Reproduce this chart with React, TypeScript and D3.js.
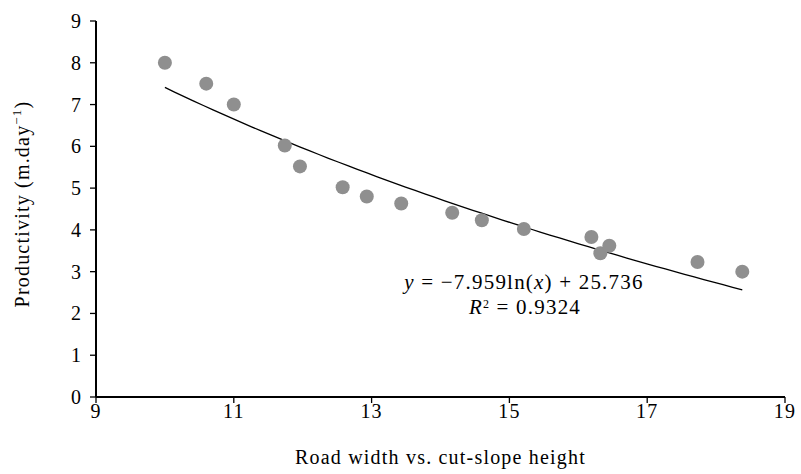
import React from "react";
import * as d3 from "d3";

// observed points (road width vs. cut-slope height, productivity)
const ratio = [10.0, 10.6, 11.0, 11.74, 11.96, 12.58, 12.93, 13.43, 14.17, 14.6, 15.21, 16.19, 16.32, 16.45, 17.73, 18.38];
const productivity = [8.0, 7.5, 7.0, 6.02, 5.52, 5.02, 4.8, 4.63, 4.41, 4.23, 4.02, 3.83, 3.44, 3.62, 3.23, 3.0];

const xTicks = [9, 11, 13, 15, 17, 19];
const yTicks = [0, 1, 2, 3, 4, 5, 6, 7, 8, 9];

// logarithmic trend: y = a ln(x) + b
const trendA = -7.959;
const trendB = 25.736;

const font = "'Liberation Serif', 'DejaVu Serif', serif";
const fs = 20;
const ls = 1.2;

const App = () => {
  const width = 801;
  const height = 474;
  const margin = { top: 21, left: 96, bottom: 77, right: 15 };

  const x = d3.scaleLinear().domain([9, 19]).range([margin.left, width - margin.right - 1]);
  const y = d3.scaleLinear().domain([0, 9]).range([height - margin.bottom, margin.top]);

  const xMin = d3.min(ratio) as number;
  const xMax = d3.max(ratio) as number;
  const trendX = d3.range(xMin, xMax + 0.001, (xMax - xMin) / 60);
  const line = d3
    .line<number>()
    .x(d => x(d))
    .y(d => y(trendA * Math.log(d) + trendB));

  const y0 = y(0);
  const x0 = x(9);

  return (
    <svg width={width} height={height} style={{ position: "absolute", left: 0, top: 0 }}>
      <rect width={width} height={height} fill="#fff" />
      {/* trend line */}
      <path d={line(trendX) || ""} fill="none" stroke="#000" strokeWidth={1.3} />
      {/* points */}
      {ratio.map((r, i) => (
        <circle key={i} cx={x(r)} cy={y(productivity[i])} r={7} fill="#8f8f8f" />
      ))}
      {/* y axis */}
      <line x1={x0} x2={x0} y1={y(9)} y2={y0} stroke="#000" strokeWidth={2} />
      {yTicks.map(t => (
        <g key={t}>
          <line x1={x0 - 6} x2={x0} y1={y(t)} y2={y(t)} stroke="#000" strokeWidth={1.3} />
          <text x={x0 - 15} y={y(t)} dy="0.35em" textAnchor="end" fontFamily={font} fontSize={fs}>
            {t}
          </text>
        </g>
      ))}
      {/* x axis */}
      <line x1={x0} x2={x(19)} y1={y0} y2={y0} stroke="#000" strokeWidth={2} />
      {xTicks.map(t => (
        <g key={t}>
          <line x1={x(t)} x2={x(t)} y1={y0} y2={y0 + 6} stroke="#000" strokeWidth={1.3} />
          <text x={x(t)} y={y0 + 21} textAnchor="middle" fontFamily={font} fontSize={fs} letterSpacing={ls}>
            {t}
          </text>
        </g>
      ))}
      {/* axis titles */}
      <text x={(x0 + x(19)) / 2} y={464} textAnchor="middle" fontFamily={font} fontSize={fs} letterSpacing={ls}>
        Road width vs. cut-slope height
      </text>
      <text
        transform={`translate(29, ${(y(9) + y0) / 2 - 5}) rotate(-90)`}
        textAnchor="middle"
        fontFamily={font}
        fontSize={fs}
        letterSpacing={ls}
      >
        Productivity (m.day<tspan dy="-8" fontSize={13}>−1</tspan><tspan dy="8">)</tspan>
      </text>
      {/* equation */}
      <text x={524} y={289} textAnchor="middle" fontFamily={font} fontSize={fs + 1} letterSpacing={ls}>
        <tspan fontStyle="italic">y</tspan> = −7.959ln(<tspan fontStyle="italic">x</tspan>) + 25.736
      </text>
      <text x={525} y={314} textAnchor="middle" fontFamily={font} fontSize={fs + 1} letterSpacing={ls}>
        <tspan fontStyle="italic">R</tspan>
        <tspan dy="-6" fontSize={12}>2</tspan>
        <tspan dy="6"> = 0.9324</tspan>
      </text>
    </svg>
  );
};

export default App;
